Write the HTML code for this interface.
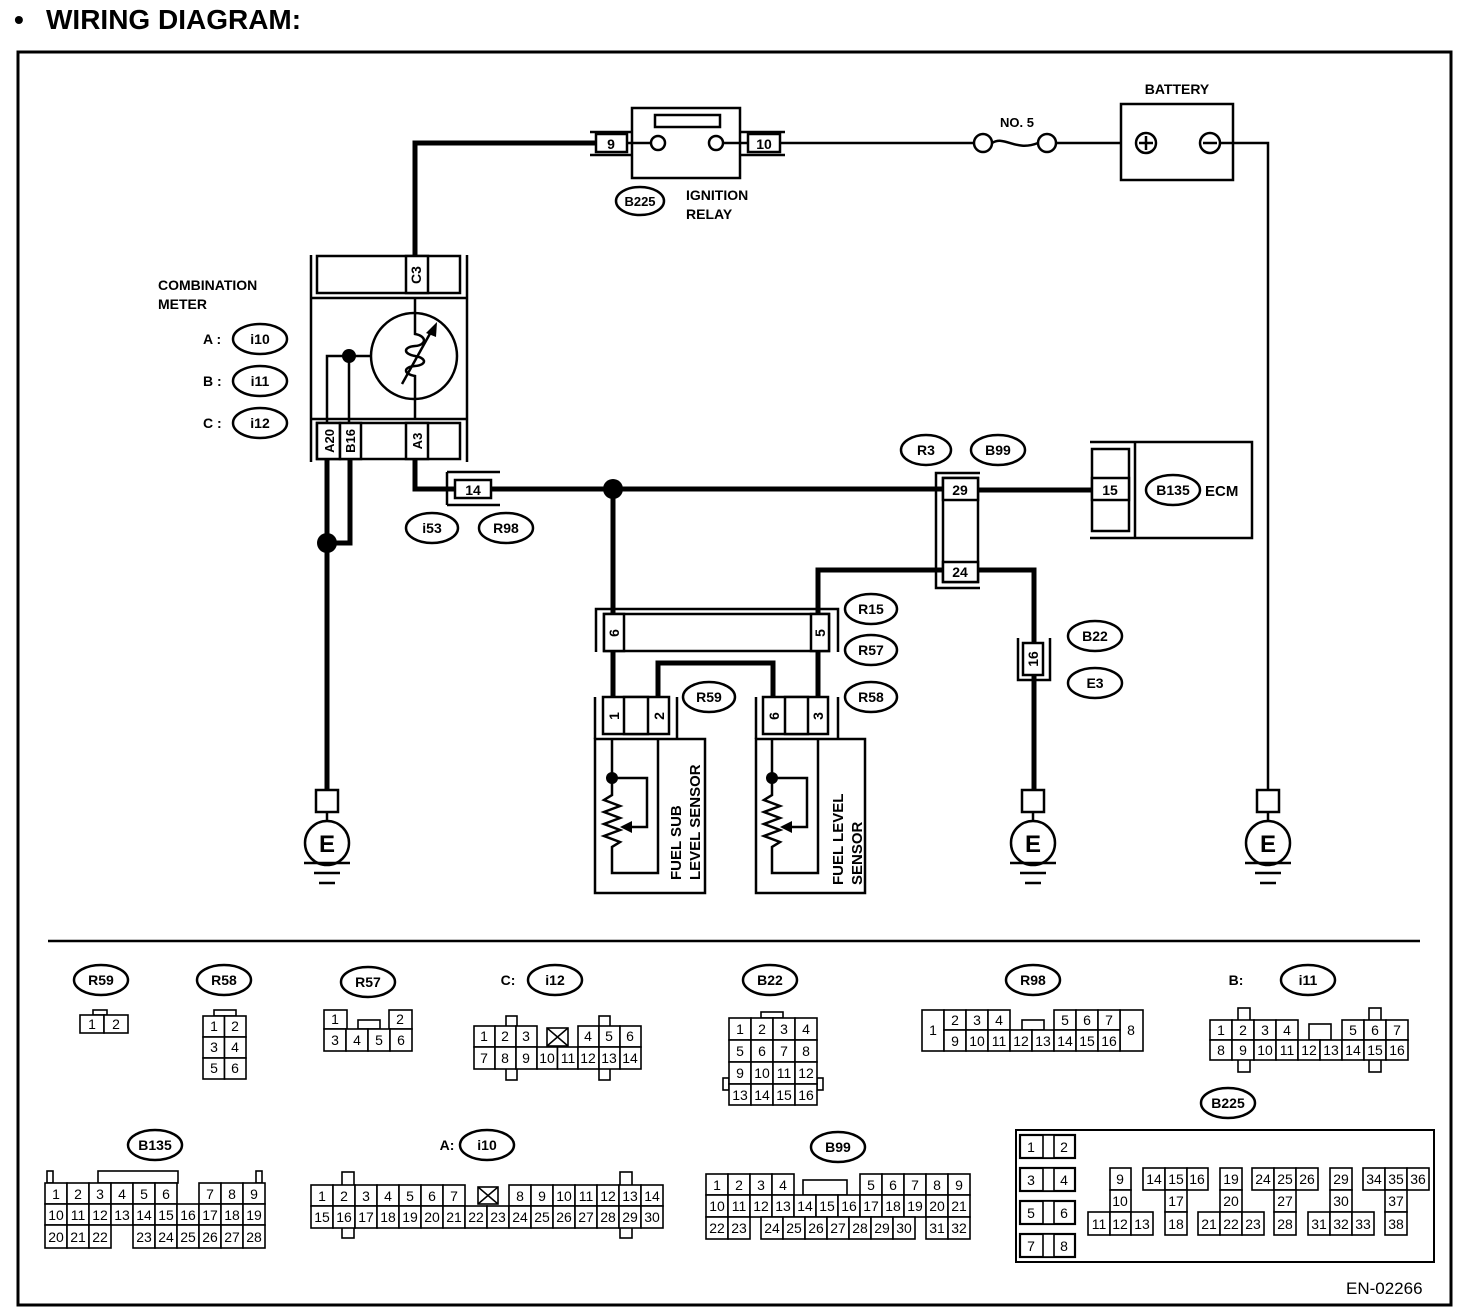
<!DOCTYPE html>
<html><head><meta charset="utf-8"><style>
html,body{margin:0;padding:0;background:#fff}
svg{display:block}
text{font-family:"Liberation Sans",sans-serif;fill:#000}
.b{font-weight:bold;font-size:15px}
.n{font-size:14px;text-anchor:middle}
.bn{font-size:14px;font-weight:bold;text-anchor:middle}
.c rect{fill:#fff;stroke:#000;stroke-width:1.6}
.w{fill:none;stroke:#000;stroke-width:5}
.t{fill:none;stroke:#000;stroke-width:2.5}
.o{fill:#fff;stroke:#000;stroke-width:2.5}
</style></head><body>
<svg width="1472" height="1314" viewBox="0 0 1472 1314" xmlns="http://www.w3.org/2000/svg">
<text x="14" y="29" style="font-size:28px;font-weight:bold">•</text>
<text x="46" y="29" style="font-size:28px;font-weight:bold">WIRING DIAGRAM:</text>
<rect x="18" y="52" width="1433" height="1253" fill="none" stroke="#000" stroke-width="3"/>

<!-- top wiring -->
<path class="w" d="M415,255 V143 H595"/>
<!-- relay -->
<path class="t" d="M590,132 H632 M590,155 H632 M740,132 H785 M740,155 H785"/>
<rect x="596" y="134" width="31" height="18" class="o"/><text x="611" y="149" class="bn">9</text>
<rect x="632" y="108" width="108" height="70" class="o"/>
<rect x="655" y="115" width="65" height="12" class="o"/>
<path class="t" d="M627,143 H651 M723,143 H748"/>
<circle cx="658" cy="143" r="7" class="o"/><circle cx="716" cy="143" r="7" class="o"/>
<rect x="748" y="134" width="32" height="18" class="o"/><text x="764" y="149" class="bn">10</text>
<path class="t" d="M780,143 H974 M992,143 C1005,135 1015,152 1038,143 M1056,143 H1136"/>
<circle cx="983" cy="143" r="9" class="o"/><circle cx="1047" cy="143" r="9" class="o"/>
<text x="1017" y="127" class="bn" style="font-size:13px">NO. 5</text>
<rect x="1121" y="104" width="112" height="76" class="o"/>
<text x="1177" y="94" class="bn">BATTERY</text>
<circle cx="1146" cy="143" r="10" class="o"/><path class="t" d="M1146,136 V150 M1139,143 H1153"/>
<circle cx="1210" cy="143" r="10" class="o"/><path class="t" d="M1203,143 H1217"/>
<path class="t" d="M1220,143 H1268 V792"/>
<ellipse cx="640" cy="201" rx="24" ry="14" class="o"/><text x="640" y="206" class="bn" style="font-size:13px">B225</text>
<text x="686" y="200" class="b" style="font-size:14px">IGNITION</text>
<text x="686" y="219" class="b" style="font-size:14px">RELAY</text>

<!-- combination meter -->
<text x="158" y="290" class="b" style="font-size:14px">COMBINATION</text>
<text x="158" y="309" class="b" style="font-size:14px">METER</text>
<text x="203" y="344" class="b" style="font-size:14px">A :</text>
<text x="203" y="386" class="b" style="font-size:14px">B :</text>
<text x="203" y="428" class="b" style="font-size:14px">C :</text>
<ellipse cx="260" cy="339" rx="27" ry="15" class="o"/><text x="260" y="344" class="bn">i10</text>
<ellipse cx="260" cy="381" rx="27" ry="15" class="o"/><text x="260" y="386" class="bn">i11</text>
<ellipse cx="260" cy="423" rx="27" ry="15" class="o"/><text x="260" y="428" class="bn">i12</text>
<path class="t" d="M311,255 V462 M467,255 V462 M311,298 H467 M311,419 H467"/>
<rect x="317" y="256" width="143" height="37" class="o"/>
<rect x="406" y="256" width="22" height="37" class="o"/>
<text transform="translate(421,275) rotate(-90)" class="bn">C3</text>
<rect x="317" y="423" width="143" height="36" class="o"/>
<rect x="317" y="423" width="23" height="36" class="o"/>
<rect x="340" y="423" width="21" height="36" class="o"/>
<rect x="406" y="423" width="22" height="36" class="o"/>
<text transform="translate(334,441) rotate(-90)" class="bn" style="font-size:13px">A20</text>
<text transform="translate(355,441) rotate(-90)" class="bn" style="font-size:13px">B16</text>
<text transform="translate(422,441) rotate(-90)" class="bn" style="font-size:13px">A3</text>
<circle cx="414" cy="356" r="43" class="o"/>
<path class="t" d="M415,298 V330 M415,382 V419 M327,423 V356 H371 M349,356 V423"/>
<circle cx="349" cy="356" r="7" fill="#000"/>
<path class="t" d="M415,330 V334 C427,336 427,345 415,346 C403,347 403,354 415,356 C427,358 427,365 415,366 C403,367 403,374 415,376 V382"/>
<path class="t" d="M402,384 L432,330"/>
<path d="M437,322 L426,333 L436,337 Z" fill="#000"/>
<path class="w" d="M327,459 V792 M350,459 V543 H327 M415,459 V489 H455"/>
<circle cx="327" cy="543" r="10" fill="#000"/>
<path class="t" d="M447,472 H500 M447,505 H500 M447,472 V505"/>
<rect x="455" y="480" width="36" height="18" class="o"/><text x="473" y="495" class="bn">14</text>
<path class="w" d="M491,489 H943"/>
<ellipse cx="432" cy="528" rx="26" ry="15" class="o"/><text x="432" y="533" class="bn">i53</text>
<ellipse cx="506" cy="528" rx="27" ry="15" class="o"/><text x="506" y="533" class="bn">R98</text>
<circle cx="613" cy="489" r="10" fill="#000"/>
<path class="w" d="M613,489 V614"/>

<!-- R3/B99 -->
<ellipse cx="926" cy="450" rx="25" ry="15" class="o"/><text x="926" y="455" class="bn">R3</text>
<ellipse cx="998" cy="450" rx="27" ry="15" class="o"/><text x="998" y="455" class="bn">B99</text>
<path class="t" d="M980,473 H936 V588 H980"/>
<rect x="943" y="478" width="35" height="104" class="o"/>
<rect x="943" y="478" width="35" height="22" class="o"/><text x="960" y="495" class="bn">29</text>
<rect x="943" y="562" width="35" height="20" class="o"/><text x="960" y="577" class="bn">24</text>
<path class="w" d="M978,490 H1092 M943,570 H818 V614 M978,570 H1034 V643 M1034,675 V792"/>
<!-- ECM -->
<path class="t" d="M1090,442 H1252 V538 H1090 M1135,442 V538"/>
<rect x="1092" y="449" width="37" height="82" class="o"/>
<rect x="1092" y="478" width="37" height="22" class="o"/><text x="1110" y="495" class="bn">15</text>
<ellipse cx="1173" cy="490" rx="27" ry="15" class="o"/><text x="1173" y="495" class="bn">B135</text>
<text x="1205" y="496" class="b">ECM</text>
<!-- B22 -->
<path class="t" d="M1018,638 V680 H1050 V638"/>
<rect x="1023" y="643" width="20" height="32" class="o"/>
<text transform="translate(1038,659) rotate(-90)" class="bn">16</text>
<ellipse cx="1095" cy="636" rx="27" ry="15" class="o"/><text x="1095" y="641" class="bn">B22</text>
<ellipse cx="1095" cy="683" rx="27" ry="15" class="o"/><text x="1095" y="688" class="bn">E3</text>

<!-- R15/R57 -->
<path class="t" d="M596,652 V609 H838 V652"/>
<rect x="604" y="614" width="225" height="37" class="o"/>
<rect x="604" y="614" width="20" height="37" class="o"/>
<rect x="811" y="614" width="18" height="37" class="o"/>
<text transform="translate(619,633) rotate(-90)" class="bn">6</text>
<text transform="translate(825,633) rotate(-90)" class="bn">5</text>
<ellipse cx="871" cy="609" rx="26" ry="15" class="o"/><text x="871" y="614" class="bn">R15</text>
<ellipse cx="871" cy="650" rx="26" ry="15" class="o"/><text x="871" y="655" class="bn">R57</text>
<ellipse cx="871" cy="697" rx="26" ry="15" class="o"/><text x="871" y="702" class="bn">R58</text>
<ellipse cx="709" cy="697" rx="26" ry="15" class="o"/><text x="709" y="702" class="bn">R59</text>
<path class="w" d="M613,651 V697 M818,651 V697 M658,697 V663 H773 V697"/>

<!-- sensors -->
<path class="t" d="M595,739 V697 M677,697 V739"/>
<rect x="603" y="697" width="66" height="37" class="o"/>
<rect x="624" y="697" width="24" height="37" class="o"/>
<text transform="translate(619,716) rotate(-90)" class="bn">1</text>
<text transform="translate(664,716) rotate(-90)" class="bn">2</text>
<rect x="595" y="739" width="110" height="154" class="o"/>
<path class="t" d="M612,739 V795 L604,800 L620,806 L604,812 L620,818 L604,824 L620,830 L604,836 L620,842 L612,847 V873 H658 V739 M612,778 H647 V827 H630"/>
<path d="M620,827 L632,821 L632,833 Z" fill="#000"/>
<circle cx="612" cy="778" r="6" fill="#000"/>
<text transform="translate(681,880) rotate(-90)" class="b" style="font-size:15px">FUEL SUB</text>
<text transform="translate(700,880) rotate(-90)" class="b" style="font-size:15px">LEVEL SENSOR</text>

<path class="t" d="M756,739 V697 M838,697 V739"/>
<rect x="763" y="697" width="65" height="37" class="o"/>
<rect x="785" y="697" width="23" height="37" class="o"/>
<text transform="translate(779,716) rotate(-90)" class="bn">6</text>
<text transform="translate(823,716) rotate(-90)" class="bn">3</text>
<rect x="756" y="739" width="109" height="154" class="o"/>
<path class="t" d="M772,739 V795 L764,800 L780,806 L764,812 L780,818 L764,824 L780,830 L764,836 L780,842 L772,847 V873 H818 V739 M772,778 H807 V827 H790"/>
<path d="M780,827 L792,821 L792,833 Z" fill="#000"/>
<circle cx="772" cy="778" r="6" fill="#000"/>
<text transform="translate(843,885) rotate(-90)" class="b" style="font-size:15px">FUEL LEVEL</text>
<text transform="translate(862,885) rotate(-90)" class="b" style="font-size:15px">SENSOR</text>

<!-- grounds -->
<g>
<rect x="316" y="790" width="22" height="22" class="o"/>
<path class="t" d="M327,812 V821"/>
<circle cx="327" cy="843" r="22" class="o"/>
<text x="327" y="852" style="font-size:24px;font-weight:bold;text-anchor:middle">E</text>
<path class="t" d="M304,863 H350 M314,873 H340 M319,883 H335"/>
</g>
<g transform="translate(706,0)">
<rect x="316" y="790" width="22" height="22" class="o"/>
<path class="t" d="M327,812 V821"/>
<circle cx="327" cy="843" r="22" class="o"/>
<text x="327" y="852" style="font-size:24px;font-weight:bold;text-anchor:middle">E</text>
<path class="t" d="M304,863 H350 M314,873 H340 M319,883 H335"/>
</g>
<g transform="translate(941,0)">
<rect x="316" y="790" width="22" height="22" class="o"/>
<path class="t" d="M327,812 V821"/>
<circle cx="327" cy="843" r="22" class="o"/>
<text x="327" y="852" style="font-size:24px;font-weight:bold;text-anchor:middle">E</text>
<path class="t" d="M304,863 H350 M314,873 H340 M319,883 H335"/>
</g>

<line x1="48" y1="941" x2="1420" y2="941" stroke="#000" stroke-width="2.5"/>

<!-- ===== connector diagrams ===== -->
<g class="c">
<rect x="93" y="1010" width="14" height="5"/>
<rect x="80" y="1015" width="24" height="18"/><rect x="104" y="1015" width="24" height="18"/>
<rect x="214" y="1010" width="22" height="6"/>
<rect x="203" y="1016" width="21.5" height="21"/><rect x="224.5" y="1016" width="21.5" height="21"/>
<rect x="203" y="1037" width="21.5" height="21"/><rect x="224.5" y="1037" width="21.5" height="21"/>
<rect x="203" y="1058" width="21.5" height="21"/><rect x="224.5" y="1058" width="21.5" height="21"/>
<rect x="358" y="1020" width="22" height="9"/>
<rect x="324" y="1010" width="23" height="19"/><rect x="389" y="1010" width="23" height="19"/>
<rect x="324" y="1029" width="22" height="22"/><rect x="346" y="1029" width="22" height="22"/><rect x="368" y="1029" width="22" height="22"/><rect x="390" y="1029" width="22" height="22"/>
<rect x="506" y="1016" width="11" height="64"/><rect x="599" y="1016" width="11" height="64"/>
<rect x="474" y="1026" width="21" height="21"/><rect x="495" y="1026" width="21" height="21"/><rect x="516" y="1026" width="21" height="21"/>
<rect x="547" y="1028" width="21" height="18"/>
<rect x="578" y="1026" width="21" height="21"/><rect x="599" y="1026" width="21" height="21"/><rect x="620" y="1026" width="21" height="21"/>
<rect x="474" y="1047" width="21" height="22"/><rect x="495" y="1047" width="21" height="22"/><rect x="516" y="1047" width="21" height="22"/><rect x="537" y="1047" width="20.5" height="22"/><rect x="557.5" y="1047" width="20.5" height="22"/><rect x="578" y="1047" width="21" height="22"/><rect x="599" y="1047" width="21" height="22"/><rect x="620" y="1047" width="21" height="22"/>
<rect x="761" y="1012" width="22" height="6"/>
<rect x="723" y="1078" width="6" height="12"/><rect x="817" y="1078" width="6" height="12"/>
<rect x="729" y="1018" width="22" height="22"/><rect x="751" y="1018" width="22" height="22"/><rect x="773" y="1018" width="22" height="22"/><rect x="795" y="1018" width="22" height="22"/>
<rect x="729" y="1040" width="22" height="22"/><rect x="751" y="1040" width="22" height="22"/><rect x="773" y="1040" width="22" height="22"/><rect x="795" y="1040" width="22" height="22"/>
<rect x="729" y="1062" width="22" height="22"/><rect x="751" y="1062" width="22" height="22"/><rect x="773" y="1062" width="22" height="22"/><rect x="795" y="1062" width="22" height="22"/>
<rect x="729" y="1084" width="22" height="21"/><rect x="751" y="1084" width="22" height="21"/><rect x="773" y="1084" width="22" height="21"/><rect x="795" y="1084" width="22" height="21"/>
<rect x="1022" y="1020" width="22" height="10"/>
<rect x="922" y="1010" width="22" height="41"/><rect x="1120" y="1010" width="23" height="41"/>
<rect x="944" y="1010" width="22" height="20"/><rect x="966" y="1010" width="22" height="20"/><rect x="988" y="1010" width="22" height="20"/>
<rect x="1054" y="1010" width="22" height="20"/><rect x="1076" y="1010" width="22" height="20"/><rect x="1098" y="1010" width="22" height="20"/>
<rect x="944" y="1030" width="22" height="21"/><rect x="966" y="1030" width="22" height="21"/><rect x="988" y="1030" width="22" height="21"/><rect x="1010" y="1030" width="22" height="21"/><rect x="1032" y="1030" width="22" height="21"/><rect x="1054" y="1030" width="22" height="21"/><rect x="1076" y="1030" width="22" height="21"/><rect x="1098" y="1030" width="22" height="21"/>
<rect x="1238" y="1008" width="12" height="64"/><rect x="1369" y="1008" width="12" height="64"/>
<rect x="1309" y="1024" width="22" height="16"/>
<rect x="1210" y="1020" width="22" height="20"/><rect x="1232" y="1020" width="22" height="20"/><rect x="1254" y="1020" width="22" height="20"/><rect x="1276" y="1020" width="22" height="20"/>
<rect x="1342" y="1020" width="22" height="20"/><rect x="1364" y="1020" width="22" height="20"/><rect x="1386" y="1020" width="22" height="20"/>
<rect x="1210" y="1040" width="22" height="20"/><rect x="1232" y="1040" width="22" height="20"/><rect x="1254" y="1040" width="22" height="20"/><rect x="1276" y="1040" width="22" height="20"/><rect x="1298" y="1040" width="22" height="20"/><rect x="1320" y="1040" width="22" height="20"/><rect x="1342" y="1040" width="22" height="20"/><rect x="1364" y="1040" width="22" height="20"/><rect x="1386" y="1040" width="22" height="20"/>
<rect x="47" y="1171" width="6" height="12"/><rect x="256" y="1171" width="6" height="12"/>
<rect x="98" y="1171" width="80" height="12"/>
<rect x="45" y="1183" width="22" height="21"/><rect x="67" y="1183" width="22" height="21"/><rect x="89" y="1183" width="22" height="21"/><rect x="111" y="1183" width="22" height="21"/><rect x="133" y="1183" width="22" height="21"/><rect x="155" y="1183" width="22" height="21"/>
<rect x="199" y="1183" width="22" height="21"/><rect x="221" y="1183" width="22" height="21"/><rect x="243" y="1183" width="22" height="21"/>
<rect x="45" y="1204" width="22" height="21"/><rect x="67" y="1204" width="22" height="21"/><rect x="89" y="1204" width="22" height="21"/><rect x="111" y="1204" width="22" height="21"/><rect x="133" y="1204" width="22" height="21"/><rect x="155" y="1204" width="22" height="21"/><rect x="177" y="1204" width="22" height="21"/><rect x="199" y="1204" width="22" height="21"/><rect x="221" y="1204" width="22" height="21"/><rect x="243" y="1204" width="22" height="21"/>
<rect x="45" y="1225" width="22" height="23"/><rect x="67" y="1225" width="22" height="23"/><rect x="89" y="1225" width="22" height="23"/>
<rect x="133" y="1225" width="22" height="23"/><rect x="155" y="1225" width="22" height="23"/><rect x="177" y="1225" width="22" height="23"/><rect x="199" y="1225" width="22" height="23"/><rect x="221" y="1225" width="22" height="23"/><rect x="243" y="1225" width="22" height="23"/>
<rect x="342" y="1172" width="12" height="66"/><rect x="620" y="1172" width="12" height="66"/>
<rect x="311" y="1185" width="22" height="21"/><rect x="333" y="1185" width="22" height="21"/><rect x="355" y="1185" width="22" height="21"/><rect x="377" y="1185" width="22" height="21"/><rect x="399" y="1185" width="22" height="21"/><rect x="421" y="1185" width="22" height="21"/><rect x="443" y="1185" width="22" height="21"/>
<rect x="478" y="1187" width="20" height="17"/>
<rect x="509" y="1185" width="22" height="21"/><rect x="531" y="1185" width="22" height="21"/><rect x="553" y="1185" width="22" height="21"/><rect x="575" y="1185" width="22" height="21"/><rect x="597" y="1185" width="22" height="21"/><rect x="619" y="1185" width="22" height="21"/><rect x="641" y="1185" width="22" height="21"/>
<rect x="311" y="1206" width="22" height="22"/><rect x="333" y="1206" width="22" height="22"/><rect x="355" y="1206" width="22" height="22"/><rect x="377" y="1206" width="22" height="22"/><rect x="399" y="1206" width="22" height="22"/><rect x="421" y="1206" width="22" height="22"/><rect x="443" y="1206" width="22" height="22"/><rect x="465" y="1206" width="22" height="22"/><rect x="487" y="1206" width="22" height="22"/><rect x="509" y="1206" width="22" height="22"/><rect x="531" y="1206" width="22" height="22"/><rect x="553" y="1206" width="22" height="22"/><rect x="575" y="1206" width="22" height="22"/><rect x="597" y="1206" width="22" height="22"/><rect x="619" y="1206" width="22" height="22"/><rect x="641" y="1206" width="22" height="22"/>
<rect x="803" y="1180" width="44" height="15"/>
<rect x="706" y="1174" width="22" height="21"/><rect x="728" y="1174" width="22" height="21"/><rect x="750" y="1174" width="22" height="21"/><rect x="772" y="1174" width="22" height="21"/>
<rect x="860" y="1174" width="22" height="21"/><rect x="882" y="1174" width="22" height="21"/><rect x="904" y="1174" width="22" height="21"/><rect x="926" y="1174" width="22" height="21"/><rect x="948" y="1174" width="22" height="21"/>
<rect x="706" y="1195" width="22" height="22"/><rect x="728" y="1195" width="22" height="22"/><rect x="750" y="1195" width="22" height="22"/><rect x="772" y="1195" width="22" height="22"/><rect x="794" y="1195" width="22" height="22"/><rect x="816" y="1195" width="22" height="22"/><rect x="838" y="1195" width="22" height="22"/><rect x="860" y="1195" width="22" height="22"/><rect x="882" y="1195" width="22" height="22"/><rect x="904" y="1195" width="22" height="22"/><rect x="926" y="1195" width="22" height="22"/><rect x="948" y="1195" width="22" height="22"/>
<rect x="706" y="1217" width="22" height="22"/><rect x="728" y="1217" width="22" height="22"/>
<rect x="761" y="1217" width="22" height="22"/><rect x="783" y="1217" width="22" height="22"/><rect x="805" y="1217" width="22" height="22"/><rect x="827" y="1217" width="22" height="22"/><rect x="849" y="1217" width="22" height="22"/><rect x="871" y="1217" width="22" height="22"/><rect x="893" y="1217" width="22" height="22"/>
<rect x="926" y="1217" width="22" height="22"/><rect x="948" y="1217" width="22" height="22"/>
<rect x="1016" y="1130" width="418" height="132" style="stroke-width:2"/>
<rect x="1020" y="1135" width="55" height="23" style="stroke-width:2.2"/><rect x="1043" y="1135" width="11" height="23"/>
<rect x="1020" y="1168" width="55" height="23" style="stroke-width:2.2"/><rect x="1043" y="1168" width="11" height="23"/>
<rect x="1020" y="1201" width="55" height="23" style="stroke-width:2.2"/><rect x="1043" y="1201" width="11" height="23"/>
<rect x="1020" y="1234" width="55" height="23" style="stroke-width:2.2"/><rect x="1043" y="1234" width="11" height="23"/>
<rect x="1110" y="1168" width="21" height="22"/><rect x="1110" y="1190" width="21" height="22"/>
<rect x="1088" y="1212" width="22" height="23"/><rect x="1110" y="1212" width="21" height="23"/><rect x="1131" y="1212" width="22" height="23"/>
<rect x="1143" y="1168" width="22" height="22"/><rect x="1165" y="1168" width="22" height="22"/><rect x="1187" y="1168" width="21" height="22"/>
<rect x="1165" y="1190" width="22" height="22"/><rect x="1165" y="1212" width="22" height="23"/>
<rect x="1220" y="1168" width="22" height="22"/><rect x="1220" y="1190" width="22" height="22"/>
<rect x="1198" y="1212" width="22" height="23"/><rect x="1220" y="1212" width="22" height="23"/><rect x="1242" y="1212" width="22" height="23"/>
<rect x="1252" y="1168" width="22" height="22"/><rect x="1274" y="1168" width="22" height="22"/><rect x="1296" y="1168" width="22" height="22"/>
<rect x="1274" y="1190" width="22" height="22"/><rect x="1274" y="1212" width="22" height="23"/>
<rect x="1330" y="1168" width="22" height="22"/><rect x="1330" y="1190" width="22" height="22"/>
<rect x="1308" y="1212" width="22" height="23"/><rect x="1330" y="1212" width="22" height="23"/><rect x="1352" y="1212" width="22" height="23"/>
<rect x="1363" y="1168" width="22" height="22"/><rect x="1385" y="1168" width="22" height="22"/><rect x="1407" y="1168" width="22" height="22"/>
<rect x="1385" y="1190" width="22" height="22"/><rect x="1385" y="1212" width="22" height="23"/>
</g>
<path d="M547,1028 L568,1046 M568,1028 L547,1046 M478,1187 L498,1204 M498,1187 L478,1204" stroke="#000" stroke-width="1.5"/>

<ellipse cx="101" cy="980" rx="27" ry="15" class="o"/><text x="101" y="985" class="bn">R59</text>
<ellipse cx="224" cy="980" rx="27" ry="15" class="o"/><text x="224" y="985" class="bn">R58</text>
<ellipse cx="368" cy="982" rx="27" ry="15" class="o"/><text x="368" y="987" class="bn">R57</text>
<text x="508" y="985" class="bn">C:</text><ellipse cx="555" cy="980" rx="27" ry="15" class="o"/><text x="555" y="985" class="bn">i12</text>
<ellipse cx="770" cy="980" rx="27" ry="15" class="o"/><text x="770" y="985" class="bn">B22</text>
<ellipse cx="1033" cy="980" rx="27" ry="15" class="o"/><text x="1033" y="985" class="bn">R98</text>
<text x="1236" y="985" class="bn">B:</text><ellipse cx="1308" cy="980" rx="27" ry="15" class="o"/><text x="1308" y="985" class="bn">i11</text>
<ellipse cx="1228" cy="1103" rx="27" ry="15" class="o"/><text x="1228" y="1108" class="bn">B225</text>
<ellipse cx="155" cy="1145" rx="27" ry="15" class="o"/><text x="155" y="1150" class="bn">B135</text>
<text x="447" y="1150" class="bn">A:</text><ellipse cx="487" cy="1145" rx="27" ry="15" class="o"/><text x="487" y="1150" class="bn">i10</text>
<ellipse cx="838" cy="1147" rx="27" ry="15" class="o"/><text x="838" y="1152" class="bn">B99</text>

<g class="n">
<text x="92" y="1029">1</text><text x="116" y="1029">2</text>
<text x="214" y="1031">1</text><text x="235" y="1031">2</text><text x="214" y="1052">3</text><text x="235" y="1052">4</text><text x="214" y="1073">5</text><text x="235" y="1073">6</text>
<text x="335" y="1024">1</text><text x="400" y="1024">2</text><text x="335" y="1045">3</text><text x="357" y="1045">4</text><text x="379" y="1045">5</text><text x="401" y="1045">6</text>
<text x="484" y="1041">1</text><text x="505" y="1041">2</text><text x="526" y="1041">3</text><text x="588" y="1041">4</text><text x="609" y="1041">5</text><text x="630" y="1041">6</text>
<text x="484" y="1063">7</text><text x="505" y="1063">8</text><text x="526" y="1063">9</text><text x="547" y="1063">10</text><text x="568" y="1063">11</text><text x="588" y="1063">12</text><text x="609" y="1063">13</text><text x="630" y="1063">14</text>
<text x="740" y="1034">1</text><text x="762" y="1034">2</text><text x="784" y="1034">3</text><text x="806" y="1034">4</text>
<text x="740" y="1056">5</text><text x="762" y="1056">6</text><text x="784" y="1056">7</text><text x="806" y="1056">8</text>
<text x="740" y="1078">9</text><text x="762" y="1078">10</text><text x="784" y="1078">11</text><text x="806" y="1078">12</text>
<text x="740" y="1100">13</text><text x="762" y="1100">14</text><text x="784" y="1100">15</text><text x="806" y="1100">16</text>
<text x="933" y="1035">1</text><text x="955" y="1025">2</text><text x="977" y="1025">3</text><text x="999" y="1025">4</text><text x="1065" y="1025">5</text><text x="1087" y="1025">6</text><text x="1109" y="1025">7</text><text x="1131" y="1035">8</text>
<text x="955" y="1046">9</text><text x="977" y="1046">10</text><text x="999" y="1046">11</text><text x="1021" y="1046">12</text><text x="1043" y="1046">13</text><text x="1065" y="1046">14</text><text x="1087" y="1046">15</text><text x="1109" y="1046">16</text>
<text x="1221" y="1035">1</text><text x="1243" y="1035">2</text><text x="1265" y="1035">3</text><text x="1287" y="1035">4</text><text x="1353" y="1035">5</text><text x="1375" y="1035">6</text><text x="1397" y="1035">7</text>
<text x="1221" y="1055">8</text><text x="1243" y="1055">9</text><text x="1265" y="1055">10</text><text x="1287" y="1055">11</text><text x="1309" y="1055">12</text><text x="1331" y="1055">13</text><text x="1353" y="1055">14</text><text x="1375" y="1055">15</text><text x="1397" y="1055">16</text>
<text x="56" y="1199">1</text><text x="78" y="1199">2</text><text x="100" y="1199">3</text><text x="122" y="1199">4</text><text x="144" y="1199">5</text><text x="166" y="1199">6</text><text x="210" y="1199">7</text><text x="232" y="1199">8</text><text x="254" y="1199">9</text>
<text x="56" y="1220">10</text><text x="78" y="1220">11</text><text x="100" y="1220">12</text><text x="122" y="1220">13</text><text x="144" y="1220">14</text><text x="166" y="1220">15</text><text x="188" y="1220">16</text><text x="210" y="1220">17</text><text x="232" y="1220">18</text><text x="254" y="1220">19</text>
<text x="56" y="1242">20</text><text x="78" y="1242">21</text><text x="100" y="1242">22</text><text x="144" y="1242">23</text><text x="166" y="1242">24</text><text x="188" y="1242">25</text><text x="210" y="1242">26</text><text x="232" y="1242">27</text><text x="254" y="1242">28</text>
<text x="322" y="1201">1</text><text x="344" y="1201">2</text><text x="366" y="1201">3</text><text x="388" y="1201">4</text><text x="410" y="1201">5</text><text x="432" y="1201">6</text><text x="454" y="1201">7</text>
<text x="520" y="1201">8</text><text x="542" y="1201">9</text><text x="564" y="1201">10</text><text x="586" y="1201">11</text><text x="608" y="1201">12</text><text x="630" y="1201">13</text><text x="652" y="1201">14</text>
<text x="322" y="1222">15</text><text x="344" y="1222">16</text><text x="366" y="1222">17</text><text x="388" y="1222">18</text><text x="410" y="1222">19</text><text x="432" y="1222">20</text><text x="454" y="1222">21</text><text x="476" y="1222">22</text><text x="498" y="1222">23</text><text x="520" y="1222">24</text><text x="542" y="1222">25</text><text x="564" y="1222">26</text><text x="586" y="1222">27</text><text x="608" y="1222">28</text><text x="630" y="1222">29</text><text x="652" y="1222">30</text>
<text x="717" y="1190">1</text><text x="739" y="1190">2</text><text x="761" y="1190">3</text><text x="783" y="1190">4</text><text x="871" y="1190">5</text><text x="893" y="1190">6</text><text x="915" y="1190">7</text><text x="937" y="1190">8</text><text x="959" y="1190">9</text>
<text x="717" y="1211">10</text><text x="739" y="1211">11</text><text x="761" y="1211">12</text><text x="783" y="1211">13</text><text x="805" y="1211">14</text><text x="827" y="1211">15</text><text x="849" y="1211">16</text><text x="871" y="1211">17</text><text x="893" y="1211">18</text><text x="915" y="1211">19</text><text x="937" y="1211">20</text><text x="959" y="1211">21</text>
<text x="717" y="1233">22</text><text x="739" y="1233">23</text><text x="772" y="1233">24</text><text x="794" y="1233">25</text><text x="816" y="1233">26</text><text x="838" y="1233">27</text><text x="860" y="1233">28</text><text x="882" y="1233">29</text><text x="904" y="1233">30</text><text x="937" y="1233">31</text><text x="959" y="1233">32</text>
<text x="1031" y="1152">1</text><text x="1064" y="1152">2</text><text x="1031" y="1185">3</text><text x="1064" y="1185">4</text><text x="1031" y="1218">5</text><text x="1064" y="1218">6</text><text x="1031" y="1251">7</text><text x="1064" y="1251">8</text>
<text x="1120" y="1184">9</text><text x="1120" y="1206">10</text><text x="1099" y="1229">11</text><text x="1120" y="1229">12</text><text x="1142" y="1229">13</text>
<text x="1154" y="1184">14</text><text x="1176" y="1184">15</text><text x="1197" y="1184">16</text><text x="1176" y="1206">17</text><text x="1176" y="1229">18</text>
<text x="1231" y="1184">19</text><text x="1231" y="1206">20</text><text x="1209" y="1229">21</text><text x="1231" y="1229">22</text><text x="1253" y="1229">23</text>
<text x="1263" y="1184">24</text><text x="1285" y="1184">25</text><text x="1307" y="1184">26</text><text x="1285" y="1206">27</text><text x="1285" y="1229">28</text>
<text x="1341" y="1184">29</text><text x="1341" y="1206">30</text><text x="1319" y="1229">31</text><text x="1341" y="1229">32</text><text x="1363" y="1229">33</text>
<text x="1374" y="1184">34</text><text x="1396" y="1184">35</text><text x="1418" y="1184">36</text><text x="1396" y="1206">37</text><text x="1396" y="1229">38</text>
</g>
<text x="1346" y="1294" style="font-size:17px">EN-02266</text>
</svg>
</body></html>
